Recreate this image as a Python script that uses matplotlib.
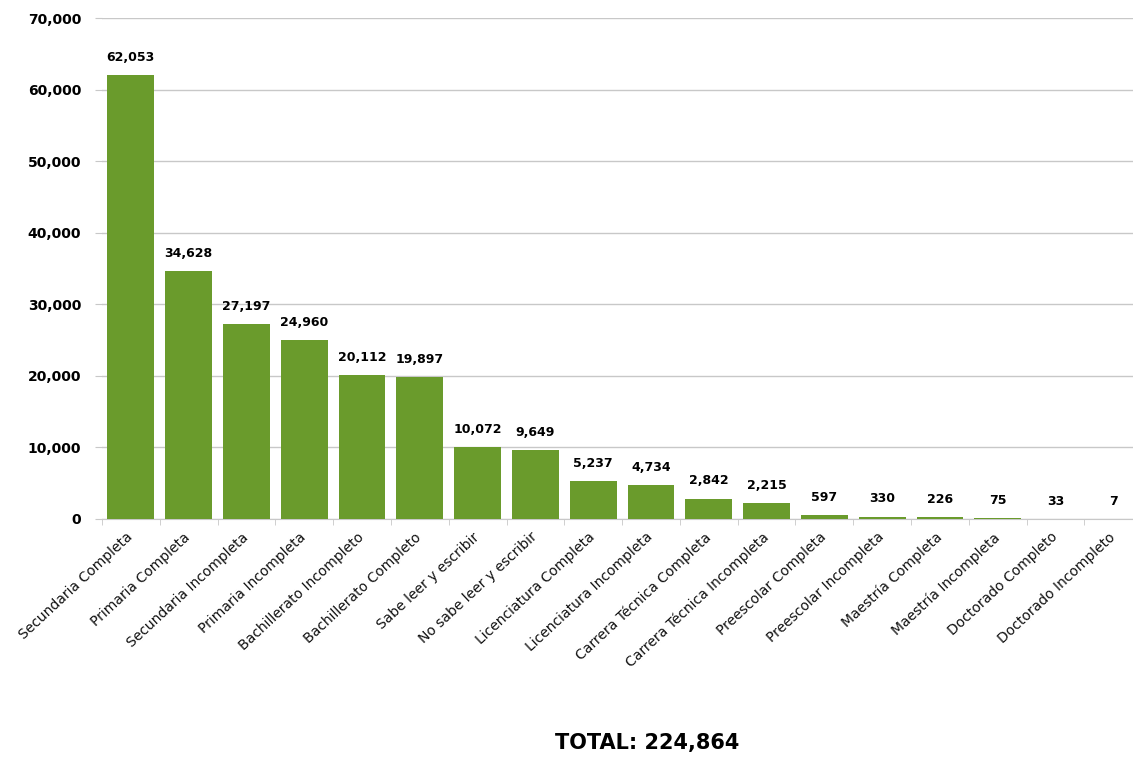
import matplotlib
matplotlib.use("Agg")
import matplotlib.pyplot as plt
import matplotlib.transforms as mtransforms
import numpy as np
from matplotlib.ticker import FuncFormatter, FixedLocator

categories = ["Secundaria Completa", "Primaria Completa", "Secundaria Incompleta",
              "Primaria Incompleta", "Bachillerato Incompleto", "Bachillerato Completo",
              "Sabe leer y escribir", "No sabe leer y escribir", "Licenciatura Completa",
              "Licenciatura Incompleta", "Carrera Técnica Completa", "Carrera Técnica Incompleta",
              "Preescolar Completa", "Preescolar Incompleta", "Maestría Completa",
              "Maestría Incompleta", "Doctorado Completo", "Doctorado Incompleto"]
values = [62053, 34628, 27197, 24960, 20112, 19897, 10072, 9649, 5237,
          4734, 2842, 2215, 597, 330, 226, 75, 33, 7]
total_label = "TOTAL: 224,864"

plt.rcParams['font.family'] = ['DejaVu Sans']

fig = plt.figure(figsize=(11.33, 7.62), dpi=100)
ax = fig.add_axes([0.09, 0.319, 0.91, 0.657])

x = np.arange(len(categories))
ax.bar(x, values, width=0.81, color="#6a9b2c", zorder=3)

ax.set_xlim(-0.5, 17.34)
ax.set_ylim(0, 70000)
ax.set_yticks(np.arange(0, 70001, 10000))
ax.yaxis.set_major_formatter(FuncFormatter(lambda v, p: f"{int(v):,}"))
ax.grid(axis='y', color="#c8c8c8", linewidth=1, zorder=0)

for s in ['top', 'right', 'left']:
    ax.spines[s].set_visible(False)
ax.spines['bottom'].set_color("#c8c8c8")

ax.tick_params(axis='y', length=5, color="#c8c8c8", labelsize=10, pad=10)
for lbl in ax.get_yticklabels():
    lbl.set_fontweight('bold')

ax.set_xticks(x)
ax.set_xticklabels(categories, rotation=43, ha='right', rotation_mode='anchor',
                   fontsize=10, fontweight='normal', color="#111111")
ax.tick_params(axis='x', which='major', length=0, pad=8)
offset = mtransforms.ScaledTranslation(-5 / 100, 0, fig.dpi_scale_trans)
for lbl in ax.get_xticklabels():
    lbl.set_transform(lbl.get_transform() + offset)
ax.xaxis.set_minor_locator(FixedLocator(np.arange(-0.5, 17.6, 1)))
ax.tick_params(axis='x', which='minor', length=4, color="#c8c8c8")

for xi, v in zip(x, values):
    ax.annotate(f"{v:,}", (xi, v), xytext=(0, 8), textcoords='offset points',
                ha='center', va='bottom', fontsize=9, fontweight='bold')

fig.text(0.571, 0.012, total_label, ha='center', va='bottom',
         fontsize=15, fontweight='bold')

fig.savefig("out.png", dpi=100)
